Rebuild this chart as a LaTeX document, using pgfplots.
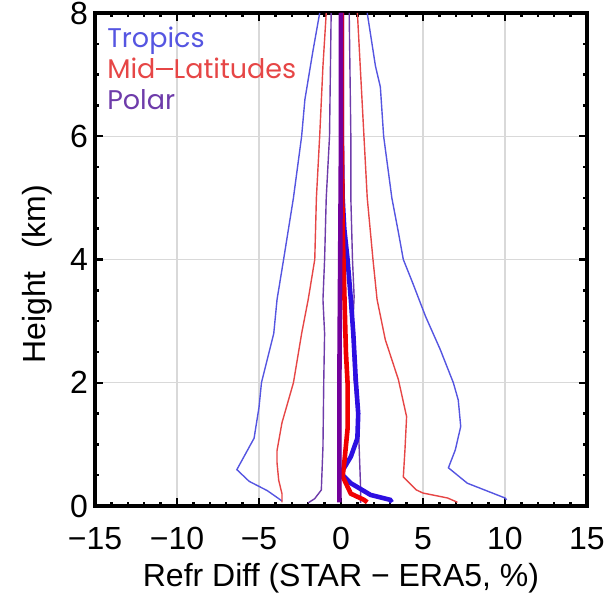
\documentclass[border=0pt]{standalone}
\usepackage{pgfplots}
\pgfplotsset{compat=1.18}
\usepackage{fontspec}
\setmainfont{Liberation Sans}
\newfontfamily\legfont{Poppins}
\definecolor{tropthin}{RGB}{85,85,225}
\definecolor{midthin}{RGB}{230,70,70}
\definecolor{polthin}{RGB}{110,60,170}
\definecolor{tropthick}{RGB}{45,15,225}
\definecolor{midthick}{RGB}{240,0,0}
\definecolor{polthick}{RGB}{115,0,155}
\begin{document}
\begin{tikzpicture}
\begin{axis}[
  at={(0,0)}, anchor=south west,
  scale only axis, width=246pt, height=246.5pt,
  xmin=-15, xmax=15, ymin=0, ymax=8,
  xtick={-15,-10,-5,0,5,10,15},
  xticklabels={−15,−10,−5,0,5,10,15},
  ytick={0,2,4,6,8},
  minor x tick num=4, minor y tick num=3,
  tick align=inside,
  xtick pos=both, ytick pos=both,
  major tick length=4pt, minor tick length=2.2pt,
  tick style={black, line width=1.2pt},
  axis line style={line width=1.7pt},
  grid=major,
  major grid style={gray!30, line width=0.6pt},
  /pgf/number format/assume math mode=true,
  tick label style={font=\fontsize{16}{18}\selectfont},
  xticklabel style={yshift=-7pt},
  label style={font=\fontsize{16}{18}\selectfont},
  xlabel={Refr Diff (STAR − ERA5, \%)},
  xlabel style={yshift=0pt},
  ylabel={Height\hspace{0.7em}(km)},
  ylabel style={at={(ticklabel cs:0.47)}, yshift=2pt},
  legend style={at={(axis description cs:0.012,0.985)}, anchor=north west, draw=none, fill=none,
    font=\legfont\fontsize{13.5}{15}\selectfont, row sep=0pt, inner sep=1pt},
  legend cell align=left,
  legend image code/.code={},
]
% legend entries (thin lines)
\addplot[tropthin, line width=0.7pt] coordinates {(-1.3,8) (-1.7,7.4) (-2.2,6.6) (-2.4,6) (-2.9,5) (-3.5,4) (-3.9,3.35) (-4.1,2.8) (-4.85,2.0) (-5.0,1.6) (-5.3,1.1) (-6.35,0.59) (-5.6,0.4) (-4.5,0.25) (-3.8,0.12) (-3.6,0.08)};
\addlegendentry{\textcolor{tropthin}{Tropics}}
\addplot[midthin, line width=0.7pt] coordinates {(-0.9,8) (-1.1,7.14) (-1.3,6) (-1.5,5) (-1.6,4) (-2.0,3.35) (-2.4,2.8) (-2.9,2.0) (-3.6,1.35) (-3.9,0.9) (-3.9,0.7) (-3.8,0.42) (-3.6,0.2) (-3.6,0.06)};
\addlegendentry{\textcolor{midthin}{Mid\kern0.5pt\rule[0.33em]{0.6em}{0.07em}\kern0.5pt Latitudes}}
\addplot[polthin, line width=0.7pt] coordinates {(-0.6,8) (-0.7,6) (-0.9,5) (-1.0,4) (-1.1,3.35) (-1.0,2.8) (-1.05,2.05) (-1.1,0.96) (-1.2,0.26) (-1.6,0.12) (-2.0,0.05)};
\addlegendentry{\textcolor{polthin}{Polar}}
% right-hand spreads
\addplot[tropthin, line width=0.7pt, forget plot] coordinates {(1.6,8) (2.1,7.14) (2.4,6.8) (2.6,6) (3.1,5) (3.5,4.44) (3.8,4) (4.4,3.6) (5.15,3.08) (6.05,2.54) (6.85,2.0) (7.15,1.72) (7.3,1.29) (6.97,0.91) (6.55,0.62) (7.7,0.37) (10.0,0.13) (10.1,0.1)};
\addplot[midthin, line width=0.7pt, forget plot] coordinates {(1.0,8) (1.2,7) (1.4,6) (1.6,5) (1.95,4) (2.2,3.35) (2.7,2.7) (3.5,2.05) (4.0,1.45) (3.9,0.91) (3.8,0.47) (4.6,0.26) (5.0,0.21) (6.5,0.13) (7.1,0.06)};
\addplot[polthin, line width=0.7pt, forget plot] coordinates {(0.5,8) (0.6,6) (0.6,5) (0.7,4) (0.8,3.4) (0.7,2.8) (0.8,2.05) (1.0,1.5) (1.1,1.0) (1.2,0.26) (1.2,0.05)};
% means
\addplot[tropthick, line width=2.3pt, forget plot] coordinates {(0.05,8) (0.05,6) (0.1,5) (0.2,4.5) (0.4,4) (0.6,3.35) (0.75,2.8) (0.9,2.05) (1.05,1.5) (1.0,1.1) (0.6,0.8) (0.15,0.6) (0.0,0.53) (0.6,0.37) (1.8,0.18) (3.0,0.1) (3.1,0.06)};
\addplot[midthick, line width=2.3pt, forget plot] coordinates {(0.05,8) (0.05,6) (0.1,4.5) (0.2,3.5) (0.3,2.5) (0.4,2.0) (0.4,1.25) (0.2,0.7) (0.1,0.48) (0.6,0.2) (1.4,0.1) (1.6,0.06)};
\addplot[polthick, line width=2.3pt, forget plot] coordinates {(0.0,8) (0.0,6) (-0.05,4) (-0.1,2) (-0.1,1) (-0.1,0.5) (-0.1,0.06)};
\end{axis}
\pgfresetboundingbox
\path (-47.5pt,-43.5pt) rectangle (257.5pt,253pt);
\end{tikzpicture}
\end{document}
